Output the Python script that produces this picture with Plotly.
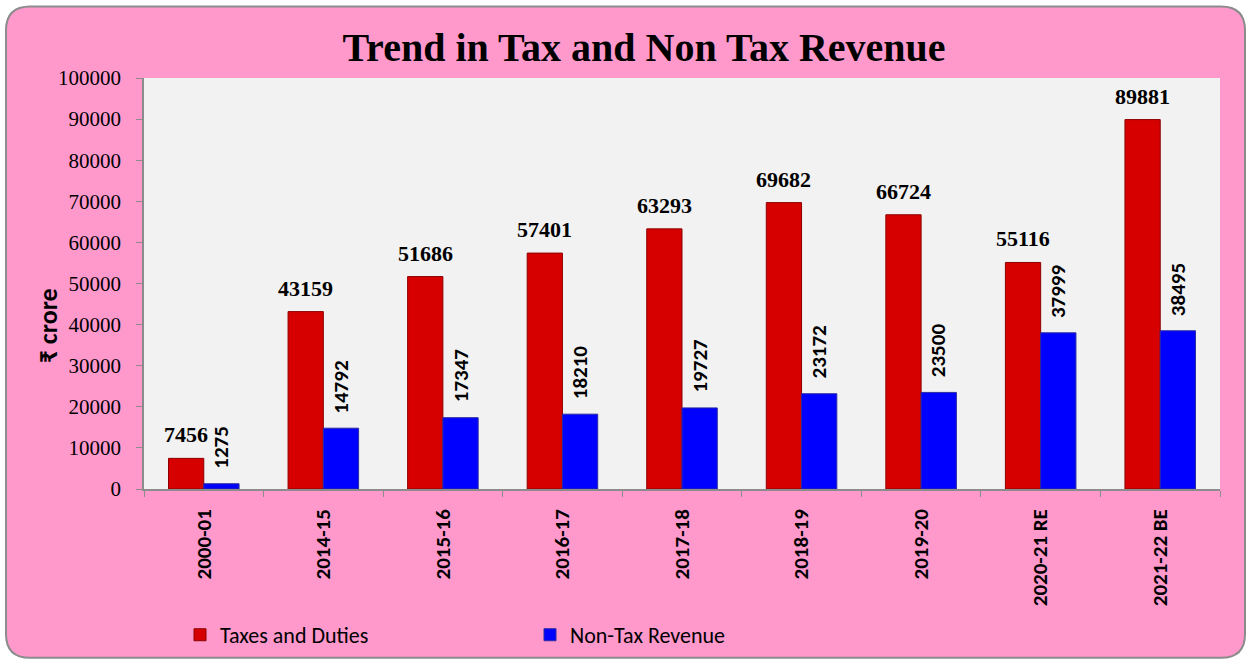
import plotly.graph_objects as go

categories = ["2000-01", "2014-15", "2015-16", "2016-17", "2017-18",
              "2018-19", "2019-20", "2020-21 RE", "2021-22 BE"]
taxes_and_duties = [7456, 43159, 51686, 57401, 63293, 69682, 66724, 55116, 89881]
non_tax_revenue = [1275, 14792, 17347, 18210, 19727, 23172, 23500, 37999, 38495]
y_ticks = [0, 10000, 20000, 30000, 40000, 50000, 60000, 70000, 80000, 90000, 100000]

W, H = 1250, 668
ML, MR, MT, MB = 144, 30, 78, 176
PW, PH = W - ML - MR, H - MT - MB
BARGAP = 0.41

def px(x):
    return (x - ML) / PW

def py(y):
    return (H - MB - y) / PH

SANS = "Calibri, Carlito, Lato, sans-serif"
SERIF = "Liberation Serif, Times New Roman, serif"

fig = go.Figure()
fig.add_trace(go.Bar(
    name="Taxes and Duties", x=categories, y=taxes_and_duties,
    marker=dict(color="#D60000", line=dict(color="#8E0000", width=1)),
))
fig.add_trace(go.Bar(
    name="Non-Tax Revenue", x=categories, y=non_tax_revenue,
    marker=dict(color="#0000FF", line=dict(color="#2A2AA0", width=1)),
))

# value labels, anchored to the bars through the axis scales
cat_px = PW / len(categories)
half_off = (1 - BARGAP) / 4 * cat_px
for c, v in zip(categories, taxes_and_duties):
    fig.add_annotation(x=c, y=v, text=str(v), showarrow=False, xshift=-half_off,
                       yanchor="bottom", yshift=9,
                       font=dict(family=SERIF, size=22, color="black", weight="bold"))
for c, v in zip(categories, non_tax_revenue):
    fig.add_annotation(x=c, y=v, text=str(v), showarrow=False, xshift=half_off,
                       textangle=-90, yanchor="bottom", yshift=13,
                       font=dict(family=SANS, size=21, color="black", weight="bold"))

# rounded outer frame
L, R, T, B, r = 6, 1245, 6, 662, 24
path = (f"M {px(L + r)},{py(T)} L {px(R - r)},{py(T)} Q {px(R)},{py(T)} {px(R)},{py(T + r)} "
        f"L {px(R)},{py(B - r)} Q {px(R)},{py(B)} {px(R - r)},{py(B)} "
        f"L {px(L + r)},{py(B)} Q {px(L)},{py(B)} {px(L)},{py(B - r)} "
        f"L {px(L)},{py(T + r)} Q {px(L)},{py(T)} {px(L + r)},{py(T)} Z")
fig.add_shape(type="path", path=path, xref="paper", yref="paper",
              fillcolor="#FF99CC", line=dict(color="#8C8C8C", width=2), layer="below")
# plot area background
fig.add_shape(type="rect", xref="paper", yref="paper", x0=0, x1=1, y0=0, y1=1,
              fillcolor="#F2F2F2", line=dict(width=0), layer="below")

fig.add_annotation(text="₹ crore", xref="paper", yref="paper", x=px(30), y=py(328),
                   textangle=-90, showarrow=False,
                   font=dict(family=SANS, size=26, color="black", weight="bold"))

fig.update_layout(
    width=W, height=H,
    margin=dict(l=ML, r=MR, t=MT, b=MB),
    paper_bgcolor="white", plot_bgcolor="#F2F2F2",
    barmode="group", bargap=BARGAP, bargroupgap=0,
    title=dict(text="Trend in Tax and Non Tax Revenue", xref="container", x=644 / W,
               xanchor="center", yref="container", y=1 - 47 / H, yanchor="middle",
               font=dict(family=SERIF, size=40, color="black", weight="bold")),
    xaxis=dict(type="category", showline=True, linecolor="#8C8C8C", linewidth=1.5,
               ticks="outside", tickson="boundaries", ticklen=6, tickcolor="#8C8C8C",
               tickangle=-90, ticklabelstandoff=10,
               tickfont=dict(family=SANS, size=21, color="black", weight="bold"),
               showgrid=False),
    yaxis=dict(range=[0, 100000], tickvals=y_ticks, ticktext=[str(v) for v in y_ticks],
               showline=True, linecolor="#8C8C8C",
               linewidth=1.5, ticks="outside", ticklen=6, tickcolor="#8C8C8C",
               showgrid=False, zeroline=False, ticklabelstandoff=11,
               tickfont=dict(family=SERIF, size=21, color="black")),
    legend=dict(orientation="h", x=px(180), y=py(639), xanchor="left", yanchor="middle",
                entrywidth=305, entrywidthmode="pixels", bgcolor="rgba(0,0,0,0)",
                font=dict(family=SANS, size=22, color="black")),
    showlegend=True,
)

fig.write_html("out.html", config={"displayModeBar": False},
               post_script="document.body.style.margin='0';document.body.style.overflow='hidden';")
